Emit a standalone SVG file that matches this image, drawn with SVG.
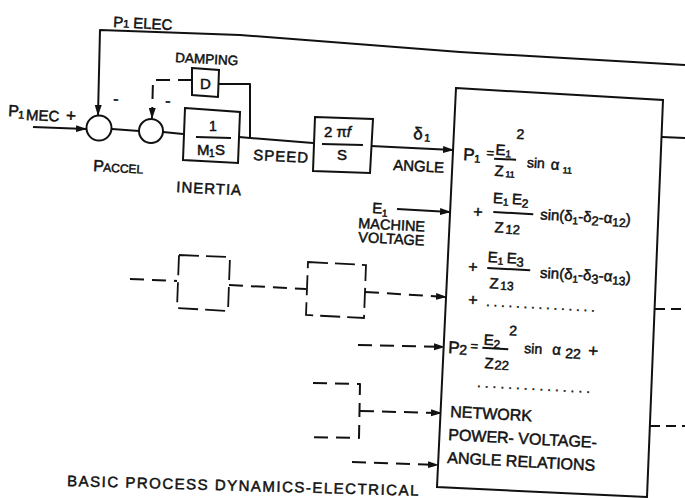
<svg xmlns="http://www.w3.org/2000/svg" width="685" height="498" viewBox="0 0 685 498">
<defs>
<marker id="ah" markerUnits="userSpaceOnUse" markerWidth="11" markerHeight="8" refX="10" refY="4" orient="auto">
<path d="M0,0.5 L11,4 L0,7.5 z" fill="#111"/>
</marker>
<style>
.ln{stroke:#111;stroke-width:2;fill:none;stroke-linejoin:round}
.bx{stroke:#111;stroke-width:2;fill:#fff}
.dl{stroke-dasharray:14 8}
.db{stroke:#111;stroke-width:1.8;fill:none;stroke-dasharray:20 7}
.t{font-family:"Liberation Sans",Arial,sans-serif;fill:#111;stroke:#111;stroke-width:0.5}
</style>
</defs>
<rect width="685" height="498" fill="#fff"/>

<g id="connectors">
<path class="ln" d="M685,65 L460,52 L240,35 L100,30 L98,115" marker-end="url(#ah)"/>
<path class="ln" d="M33,127 L86,129" marker-end="url(#ah)"/>
<path class="ln" d="M112,129 L139,131"/>
<path class="ln" d="M163,132 L183,134"/>
<path class="ln" d="M239,137 L313,143"/>
<path class="ln" d="M250,138 L250,84 L219,84"/>
<path class="ln dl" d="M192,80 L153,80 L152,118" marker-end="url(#ah)"/>
<path class="ln" d="M371,146 L453,150" marker-end="url(#ah)"/>
<path class="ln" d="M397,209 L450,212" marker-end="url(#ah)"/>
<path class="ln dl" d="M130,279 L177,281"/>
<path class="ln dl" d="M229,285 L306,289"/>
<path class="ln dl" d="M365,292 L446,297" marker-end="url(#ah)"/>
<path class="ln dl" d="M358,345 L444,347" marker-end="url(#ah)"/>
<path class="ln dl" d="M313,383 L360,384 L359,438 L306,437"/>
<path class="ln dl" d="M360,411 L441,413" marker-end="url(#ah)"/>
<path class="ln dl" d="M352,462 L438,465" marker-end="url(#ah)"/>
<path class="ln" d="M662,137 L685,138"/>
<path class="ln" d="M655,309 L685,309" stroke-dasharray="10 6"/>
<path class="ln" d="M650,426 L685,426" stroke-dasharray="10 6"/>
</g>

<g id="sum1"><circle class="bx" cx="99" cy="128" r="12.5"/></g>
<g id="sum2"><circle class="bx" cx="151" cy="131" r="12"/></g>

<g id="damping">
<polygon class="bx" points="192,68 219,70 218,97 192,95"/>
<text class="t" x="200" y="89" font-size="15">D</text>
</g>

<g id="inertia">
<polygon class="bx" points="185,108 240,112 238,163 183,160"/>
<text class="t" x="209" y="131" font-size="14">1</text>
<path class="ln" d="M196,137 L231,138" stroke-width="1.8"/>
<text class="t" x="197" y="155" font-size="15">M</text>
<text class="t" x="209" y="157" font-size="10">1</text>
<text class="t" x="215" y="155" font-size="15">S</text>
</g>

<g id="integrator">
<polygon class="bx" points="315,117 373,119 370,173 313,171"/>
<text class="t" x="324" y="137" font-size="15">2 π<tspan font-style="italic">f</tspan></text>
<path class="ln" d="M322,144 L363,145" stroke-width="1.8"/>
<text class="t" x="337" y="160" font-size="15">S</text>
</g>

<g id="dashbox1"><polygon class="db" points="179,255 230,257 228,311 177,308"/></g>
<g id="dashbox2"><polygon class="db" points="308,262 366,265 364,318 306,315"/></g>

<g id="network">
<polygon class="bx" points="456,88 663,100 647,497 437,487"/>
<g transform="translate(463 160) rotate(3)">
<text class="t" x="0" y="0" font-size="17">P</text>
<text class="t" x="11" y="2" font-size="11">1</text>
<text class="t" x="23" y="-4" font-size="13">=</text>
<text class="t" x="32" y="-7" font-size="15">E</text>
<text class="t" x="42" y="-5" font-size="10">1</text>
<text class="t" x="52" y="-24" font-size="14">2</text>
<path class="ln" d="M31,-3 L53,-3" stroke-width="1.8"/>
<text class="t" x="32" y="14" font-size="15">Z</text>
<text class="t" x="43" y="15" font-size="9">11</text>
<text class="t" x="64" y="4" font-size="14">sin</text>
<text class="t" x="88" y="5" font-size="15">α</text>
<text class="t" x="100" y="8" font-size="9">11</text>
</g>
<g transform="translate(473 217) rotate(3)">
<text class="t" x="0" y="0" font-size="16">+</text>
<text class="t" x="19" y="-15" font-size="15">E</text>
<text class="t" x="29" y="-13" font-size="10">1</text>
<text class="t" x="38" y="-15" font-size="15">E</text>
<text class="t" x="48" y="-12" font-size="12">2</text>
<path class="ln" d="M20,-6 L60,-6" stroke-width="1.8"/>
<text class="t" x="22" y="14" font-size="15">Z</text>
<text class="t" x="33" y="15" font-size="13">12</text>
<text class="t" x="67" y="-1" font-size="15">sin(δ<tspan font-size="10" dy="3">1</tspan><tspan dy="-3">-δ</tspan><tspan font-size="13" dy="3">2</tspan><tspan dy="-3">-α</tspan><tspan font-size="12" dy="3">12</tspan><tspan dy="-3">)</tspan></text>
</g>
<g transform="translate(468 272) rotate(3)">
<text class="t" x="0" y="0" font-size="16">+</text>
<text class="t" x="19" y="-11" font-size="15">E</text>
<text class="t" x="29" y="-9" font-size="10">1</text>
<text class="t" x="38" y="-11" font-size="15">E</text>
<text class="t" x="48" y="-8" font-size="13">3</text>
<path class="ln" d="M19,-5 L62,-5" stroke-width="1.8"/>
<text class="t" x="22" y="15" font-size="15">Z</text>
<text class="t" x="33" y="16" font-size="12">13</text>
<text class="t" x="72" y="2" font-size="15">sin(δ<tspan font-size="10" dy="3">1</tspan><tspan dy="-3">-δ</tspan><tspan font-size="13" dy="3">3</tspan><tspan dy="-3">-α</tspan><tspan font-size="12" dy="3">13</tspan><tspan dy="-3">)</tspan></text>
</g>
<g transform="translate(468 305) rotate(3)">
<text class="t" x="0" y="0" font-size="16">+</text>
<text class="t" x="18" y="0" font-size="13" letter-spacing="3.9">...............</text>
</g>
<g transform="translate(448 353) rotate(3)">
<text class="t" x="0" y="0" font-size="17">P</text>
<text class="t" x="11" y="1" font-size="14">2</text>
<text class="t" x="22" y="-4" font-size="13">=</text>
<text class="t" x="35" y="-10" font-size="15">E</text>
<text class="t" x="45" y="-7" font-size="12">2</text>
<text class="t" x="60" y="-21" font-size="14">2</text>
<path class="ln" d="M34,-7 L60,-7" stroke-width="1.8"/>
<text class="t" x="37" y="13" font-size="15">Z</text>
<text class="t" x="47" y="14" font-size="13">22</text>
<text class="t" x="76" y="-4" font-size="14">sin</text>
<text class="t" x="104" y="-4" font-size="15">α</text>
<text class="t" x="117" y="-1" font-size="14">22</text>
<text class="t" x="140" y="-4" font-size="17">+</text>
</g>
<g transform="translate(477 387) rotate(3)">
<text class="t" x="0" y="0" font-size="13" letter-spacing="4.2">...............</text>
</g>
<g transform="translate(450 417) rotate(3)"><text class="t" x="0" y="0" font-size="16">NETWORK</text></g>
<g transform="translate(448 440) rotate(3)"><text class="t" x="0" y="0" font-size="16">POWER- VOLTAGE-</text></g>
<g transform="translate(447 463) rotate(3)"><text class="t" x="0" y="0" font-size="16">ANGLE RELATIONS</text></g>
</g>

<g id="labels">
<g transform="translate(113 27) rotate(3)">
<text class="t" x="0" y="0" font-size="15">P</text>
<text class="t" x="10" y="0" font-size="11">1</text>
<text class="t" x="20" y="0" font-size="15">ELEC</text>
</g>
<g transform="translate(175 62) rotate(3)"><text class="t" x="0" y="0" font-size="13.5">DAMPING</text></g>
<g transform="translate(113 104) rotate(3)"><text class="t" x="0" y="0" font-size="16">-</text></g>
<g transform="translate(165 106) rotate(3)"><text class="t" x="0" y="0" font-size="16">-</text></g>
<g transform="translate(8 116) rotate(3)">
<text class="t" x="0" y="0" font-size="16">P</text>
<text class="t" x="10" y="2" font-size="11">1</text>
<text class="t" x="18" y="3" font-size="15">MEC</text>
<text class="t" x="58" y="2" font-size="17">+</text>
</g>
<g transform="translate(93 171) rotate(3)">
<text class="t" x="0" y="0" font-size="16">P</text>
<text class="t" x="10" y="0" font-size="12">ACCEL</text>
</g>
<g transform="translate(176 192) rotate(3)"><text class="t" x="0" y="0" font-size="15" letter-spacing="1">INERTIA</text></g>
<g transform="translate(253 160) rotate(3)"><text class="t" x="0" y="0" font-size="15" letter-spacing="1">SPEED</text></g>
<g transform="translate(413 139) rotate(3)">
<text class="t" x="0" y="0" font-size="17">δ</text>
<text class="t" x="11" y="2" font-size="11">1</text>
</g>
<g transform="translate(393 170) rotate(3)"><text class="t" x="0" y="0" font-size="15">ANGLE</text></g>
<g transform="translate(372 213) rotate(3)">
<text class="t" x="0" y="0" font-size="15">E</text>
<text class="t" x="10" y="3" font-size="10">1</text>
</g>
<g transform="translate(358 228) rotate(3)"><text class="t" x="0" y="0" font-size="14.5" stroke-width="0.7">MACHINE</text></g>
<g transform="translate(358 242) rotate(3)"><text class="t" x="0" y="0" font-size="14.5" stroke-width="0.7">VOLTAGE</text></g>
<g transform="translate(67 486) rotate(1.6)"><text class="t" x="0" y="0" font-size="15" letter-spacing="1.5">BASIC PROCESS DYNAMICS-ELECTRICAL</text></g>
</g>
</svg>
